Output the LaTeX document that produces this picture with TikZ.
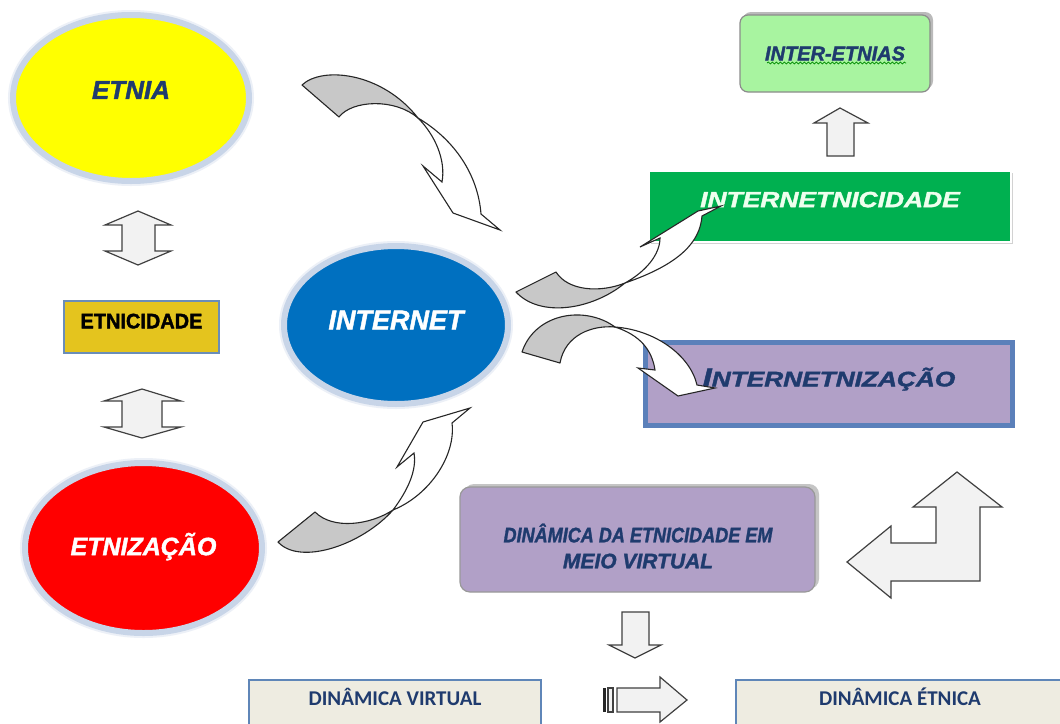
\documentclass[tikz,border=0pt]{standalone}
\usepackage{fontspec}
\usepackage{graphicx}
\setmainfont{Liberation Sans}
\newfontfamily\hvy{Liberation Sans}[BoldFeatures={FakeBold=1.6},BoldItalicFeatures={FakeBold=1.6}]
\newfontfamily\carl{Carlito}
\usetikzlibrary{shapes.geometric,shadows,decorations.pathmorphing}
\definecolor{ring}{HTML}{C8D5E8}
\definecolor{navy}{HTML}{1F3B6E}
\definecolor{yel}{HTML}{FFFF00}
\definecolor{redE}{HTML}{FF0000}
\definecolor{blueI}{HTML}{0070C0}
\definecolor{gold}{HTML}{E4C41E}
\definecolor{boxline}{HTML}{6A8DB8}
\definecolor{lgreen}{HTML}{A8F4A0}
\definecolor{dgreen}{HTML}{00B050}
\definecolor{lav}{HTML}{B1A0C7}
\definecolor{lavline}{HTML}{5B80BA}
\definecolor{beige}{HTML}{EEECE1}
\definecolor{bline}{HTML}{5F86B8}
\definecolor{arrowfill}{HTML}{F2F2F2}
\definecolor{backgray}{HTML}{C8C8C8}
\definecolor{paletxt}{HTML}{EEFFEE}
\begin{document}
\begin{tikzpicture}[x=0.5pt,y=-0.5pt,
  oval/.style={ellipse, draw=ring, line width=3pt, inner sep=0pt, outer sep=0pt,
               preaction={draw=ring!35, line width=5pt}},
  heavy/.style={font=\hvy\fontsize{#1}{#1}\selectfont\bfseries\itshape},
  blockarrow/.style={fill=arrowfill, draw=black!75, line width=0.6pt, line join=miter},
  backpart/.style={fill=backgray, draw=black!85, line width=0.55pt, line join=round},
  frontpart/.style={fill=white, draw=black!85, line width=0.55pt, line join=miter},
  plainbox/.style={rectangle, inner sep=0pt, outer sep=0pt},
  calbox/.style={plainbox, fill=beige, draw=bline, line width=1pt, text=navy,
                 font=\carl\fontsize{10.5}{12}\selectfont\bfseries},
]
\useasboundingbox (0,0) rectangle (1060,723);
\clip (0,0) rectangle (1060,723);
\fill[white] (0,0) rectangle (1060,723);

% ---------- ellipses ----------
\node[oval, fill=yel, minimum width=118pt, minimum height=83pt, text=navy, heavy=13]
  (etnia) at (131,98) {\raisebox{8pt}{ETNIA}};
\node[oval, fill=blueI, minimum width=112pt, minimum height=79pt, text=white, heavy=13.5]
  (internet) at (396,325) {\raisebox{5pt}{INTERNET}};
\node[oval, fill=redE, minimum width=118.5pt, minimum height=85pt, text=white, heavy=12.5]
  (etnizacao) at (143.5,548) {\raisebox{4pt}{ETNIZAÇÃO}};

% ---------- boxes ----------
\node[plainbox, fill=gold, draw=boxline, line width=1pt, minimum width=77.5pt, minimum height=26pt,
      font=\hvy\fontsize{10.5}{12}\selectfont\bfseries]
  (etnicidade) at (141.5,327) {\raisebox{6pt}{\scalebox{0.95}[1]{ETNICIDADE}}};

\node[plainbox, rounded corners=4pt, fill=lgreen, draw=black!45, line width=0.6pt,
      minimum width=95pt, minimum height=38.5pt, text=navy, heavy=10,
      drop shadow={shadow xshift=1.5pt, shadow yshift=1.5pt, fill=black!45, opacity=0.6}]
  (interetnias) at (835,53.5) {INTER-ETNIAS};
\draw[decorate, decoration={snake, amplitude=0.5pt, segment length=2pt},
      draw=green!55!black, line width=0.35pt] (767,63) -- (906,63);

\node[plainbox, fill=dgreen, draw=white, line width=1pt, minimum width=181pt, minimum height=35.5pt,
      text=paletxt, heavy=11,
      drop shadow={shadow xshift=1pt, shadow yshift=-1pt, fill=black!35, opacity=0.5}]
  (internetnicidade) at (830,206.5) {\raisebox{7pt}{\scalebox{1.2}[1]{INTERNETNICIDADE}}};

\node[plainbox, fill=lav, draw=lavline, line width=2.5pt, minimum width=183.5pt, minimum height=41.5pt,
      text=navy, font=\hvy\bfseries\itshape]
  (internetnizacao) at (829,384) {\raisebox{7pt}{\scalebox{1.25}[1]{{\fontsize{13}{14}\selectfont I}{\fontsize{10.5}{12}\selectfont NTERNETNIZAÇÃO}}}};

\node[plainbox, rounded corners=5pt, fill=lav, draw=black!40, line width=0.6pt,
      minimum width=177.5pt, minimum height=52.5pt,
      drop shadow={shadow xshift=2pt, shadow yshift=1.5pt, fill=black!45, opacity=0.5}]
  (dinamica) at (637.5,539.5) {};
\node[text=navy, heavy=10.5, align=center, inner sep=0pt]
  (dinamicatxt) at (638,546) {\scalebox{0.86}[1]{DINÂMICA DA ETNICIDADE EM}\\[2.5pt]MEIO VIRTUAL};

\node[calbox, minimum width=146pt, minimum height=35pt]
  (dvirtual) at (395,715) {\raisebox{18pt}{DINÂMICA VIRTUAL}};
\node[calbox, minimum width=164pt, minimum height=35pt]
  (detnica) at (900,715) {\raisebox{18pt}{DINÂMICA ÉTNICA}};

% ---------- straight block arrows ----------
\draw[blockarrow] (138,211) -- (171,225) -- (155,225) -- (155,251) -- (171,251) -- (138,265)
  -- (105,251) -- (122,251) -- (122,225) -- (105,225) -- cycle;
\draw[blockarrow] (142,389) -- (181,401) -- (162,401) -- (162,427) -- (181,427) -- (142,438)
  -- (104,427) -- (122,427) -- (122,401) -- (104,401) -- cycle;
\draw[blockarrow] (840,108) -- (868,123) -- (854,123) -- (854,156) -- (827,156) -- (827,123)
  -- (814,123) -- cycle;
\draw[blockarrow] (957,472) -- (1002,507) -- (980,507) -- (980,581) -- (891,581) -- (891,598)
  -- (847,562) -- (891,526) -- (891,543) -- (936,543) -- (936,507) -- (913,507) -- cycle;
\draw[blockarrow] (622,612) -- (649,612) -- (649,645) -- (661,645) -- (635,658) -- (609,645)
  -- (622,645) -- cycle;
\fill[black!85] (603,688) rectangle (606,712);
\draw[blockarrow] (608,688) rectangle (613,712);
\draw[blockarrow] (617,688) -- (660,688) -- (660,677) -- (687,700) -- (660,722) -- (660,712)
  -- (617,712) -- cycle;

% ---------- curved 3D arrows ----------
% A: ETNIA -> INTERNET
\draw[backpart] (302,85) .. controls (322,66) and (382,72) .. (418,118)
  .. controls (395,98) and (352,100) .. (339,117) -- cycle;
\draw[frontpart] (418,118) .. controls (435,135) and (446,160) .. (442,182) -- (423,166)
  -- (453,213) -- (500,230) -- (481,214) .. controls (478,175) and (455,140) .. (418,118) -- cycle;
% B: ETNIZACAO -> INTERNET
\draw[backpart] (278,542) .. controls (300,566) and (362,545) .. (393,510)
  .. controls (370,525) and (333,530) .. (315,512) -- cycle;
\draw[frontpart] (393,510) .. controls (408,490) and (417,470) .. (414,453) -- (397,467)
  -- (423,422) -- (470,408) -- (452,423) .. controls (456,455) and (430,495) .. (393,510) -- cycle;
% C: INTERNET -> INTERNETNICIDADE
\draw[backpart] (516,292) .. controls (540,318) and (592,310) .. (625,283)
  .. controls (600,293) and (568,291) .. (556,272) -- cycle;
\draw[frontpart] (625,283) .. controls (645,272) and (660,255) .. (660,238) -- (640,247)
  -- (698,211) -- (721,206) -- (702,216) .. controls (700,242) and (680,264) .. (625,283) -- cycle;
% D: INTERNET -> INTERNETNIZACAO
\draw[backpart] (522,352) .. controls (535,313) and (585,305) .. (615,327)
  .. controls (592,325) and (565,335) .. (560,363) -- cycle;
\draw[frontpart] (615,327) .. controls (655,330) and (690,355) .. (697,385) -- (715,388)
  -- (678,396) -- (638,368) -- (655,370) .. controls (652,350) and (640,335) .. (615,327) -- cycle;
\end{tikzpicture}
\end{document}
